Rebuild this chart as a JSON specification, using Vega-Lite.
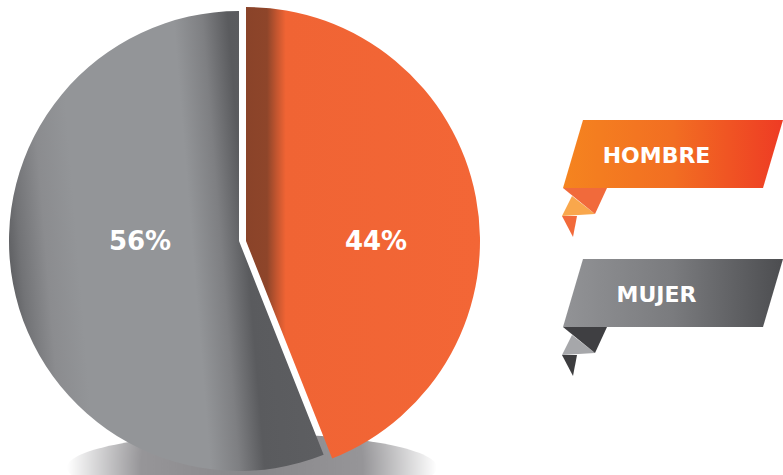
{
  "$schema": "https://vega.github.io/schema/vega-lite/v6.json",
  "padding": 0,
  "spacing": 0,
  "background": "white",
  "config": {"view": {"stroke": null}},
  "datasets": {
    "sexo": [
      {"sexo": "HOMBRE", "pct": 44},
      {"sexo": "MUJER", "pct": 56}
    ]
  },
  "hconcat": [
    {
      "width": 486,
      "height": 475,
      "data": {"name": "sexo"},
      "transform": [
        {"stack": "pct", "groupby": [], "sort": [{"field": "sexo", "order": "ascending"}], "as": ["t0", "t1"]},
        {"calculate": "datum.pct + '%'", "as": "label"}
      ],
      "layer": [
        {
          "transform": [{"filter": "datum.sexo === 'MUJER'"}],
          "mark": {
            "type": "point",
            "shape": "M -185 0 A 185 34 0 1 0 185 0 A 185 34 0 1 0 -185 0 Z",
            "size": 4,
            "filled": true,
            "opacity": 1,
            "strokeWidth": 0,
            "xOffset": 9,
            "yOffset": 230,
            "fill": {
              "gradient": "radial", "x1": 0.5, "y1": 0.5, "r1": 0, "x2": 0.5, "y2": 0.5, "r2": 0.5,
              "stops": [
                {"offset": 0, "color": "#878689"},
                {"offset": 0.6, "color": "#969598"},
                {"offset": 1, "color": "#ffffff"}
              ]
            }
          },
          "encoding": {}
        },
        {
          "transform": [{"filter": "datum.sexo === 'MUJER'"}],
          "mark": {
            "type": "arc",
            "outerRadius": 230,
            "xOffset": -4,
            "yOffset": 3.5,
            "stroke": null,
            "fill": {
              "gradient": "linear", "x1": 0, "y1": 0.56, "x2": 1, "y2": 0.44,
              "stops": [
                {"offset": 0, "color": "#5e5f62"},
                {"offset": 0.04, "color": "#727376"},
                {"offset": 0.12, "color": "#8b8c8f"},
                {"offset": 0.22, "color": "#939598"},
                {"offset": 0.58, "color": "#939598"},
                {"offset": 0.67, "color": "#7e7f82"},
                {"offset": 0.75, "color": "#5a5b5e"},
                {"offset": 1, "color": "#5e5f62"}
              ]
            }
          },
          "encoding": {
            "theta": {"field": "t0", "type": "quantitative", "stack": null, "scale": {"domain": [0, 100]}},
            "theta2": {"field": "t1"}
          }
        },
        {
          "transform": [{"filter": "datum.sexo === 'HOMBRE'"}],
          "mark": {
            "type": "arc",
            "outerRadius": 234,
            "xOffset": 3,
            "yOffset": 3.5,
            "stroke": null,
            "fill": {
              "gradient": "linear", "x1": 0, "y1": 0, "x2": 1, "y2": 0,
              "stops": [
                {"offset": 0, "color": "#8a4329"},
                {"offset": 0.09, "color": "#8e452a"},
                {"offset": 0.13, "color": "#c2552f"},
                {"offset": 0.17, "color": "#f06434"},
                {"offset": 1, "color": "#f36636"}
              ]
            }
          },
          "encoding": {
            "theta": {"field": "t0", "type": "quantitative", "stack": null, "scale": {"domain": [0, 100]}},
            "theta2": {"field": "t1"}
          }
        },
        {
          "transform": [{"filter": "datum.sexo === 'MUJER'"}],
          "mark": {"type": "text", "dx": -103, "dy": 4.5, "fontSize": 26, "fontWeight": "bold", "font": "DejaVu Sans", "fill": "#ffffff", "align": "center", "baseline": "middle"},
          "encoding": {"text": {"field": "label"}}
        },
        {
          "transform": [{"filter": "datum.sexo === 'HOMBRE'"}],
          "mark": {"type": "text", "dx": 133, "dy": 4.5, "fontSize": 26, "fontWeight": "bold", "font": "DejaVu Sans", "fill": "#ffffff", "align": "center", "baseline": "middle"},
          "encoding": {"text": {"field": "label"}}
        }
      ]
    },
    {
      "width": 297,
      "height": 475,
      "data": {"name": "sexo"},
      "encoding": {
        "y": {"field": "sexo", "type": "nominal", "axis": null, "scale": {"type": "point", "range": [154, 293], "padding": 0}}
      },
      "resolve": {"scale": {"color": "independent"}},
      "layer": [
        {
          "mark": {"type": "point", "shape": "M -62.5 42 L -39.5 60 L -72.5 62 Z", "size": 4, "filled": true, "opacity": 1, "strokeWidth": 0},
          "encoding": {"color": {"field": "sexo", "type": "nominal", "legend": null, "scale": {"domain": ["HOMBRE", "MUJER"], "range": ["#f9a74c", "#a6a7aa"]}}}
        },
        {
          "mark": {"type": "point", "shape": "M -71.5 34 L -27.5 34 L -39.5 60 Z", "size": 4, "filled": true, "opacity": 1, "strokeWidth": 0},
          "encoding": {"color": {"field": "sexo", "type": "nominal", "legend": null, "scale": {"domain": ["HOMBRE", "MUJER"], "range": ["#f16a3b", "#3f3f42"]}}}
        },
        {
          "mark": {"type": "point", "shape": "M -72.5 62 L -57.5 62 L -61.5 83 Z", "size": 4, "filled": true, "opacity": 1, "strokeWidth": 0},
          "encoding": {"color": {"field": "sexo", "type": "nominal", "legend": null, "scale": {"domain": ["HOMBRE", "MUJER"], "range": ["#f26a3a", "#3d3d3f"]}}}
        },
        {
          "transform": [{"filter": "datum.sexo === 'HOMBRE'"}],
          "mark": {
            "type": "point", "shape": "M -51.5 -34 L 148.5 -34 L 128.5 34 L -71.5 34 Z", "size": 4, "filled": true, "opacity": 1, "strokeWidth": 0,
            "fill": {
              "gradient": "linear", "x1": 0, "y1": 0, "x2": 1, "y2": 0,
              "stops": [
                {"offset": 0, "color": "#f5841f"},
                {"offset": 0.5, "color": "#f26e22"},
                {"offset": 1, "color": "#ee3b24"}
              ]
            }
          }
        },
        {
          "transform": [{"filter": "datum.sexo === 'MUJER'"}],
          "mark": {
            "type": "point", "shape": "M -51.5 -34 L 148.5 -34 L 128.5 34 L -71.5 34 Z", "size": 4, "filled": true, "opacity": 1, "strokeWidth": 0,
            "fill": {
              "gradient": "linear", "x1": 0, "y1": 0, "x2": 1, "y2": 0,
              "stops": [
                {"offset": 0, "color": "#929396"},
                {"offset": 0.5, "color": "#7a7b7e"},
                {"offset": 1, "color": "#4c4d50"}
              ]
            }
          }
        },
        {
          "mark": {"type": "text", "dx": 22, "dy": 2, "fontSize": 22, "font": "DejaVu Sans", "fontWeight": "bold", "fill": "#ffffff", "align": "center", "baseline": "middle"},
          "encoding": {"text": {"field": "sexo"}}
        }
      ]
    }
  ]
}
